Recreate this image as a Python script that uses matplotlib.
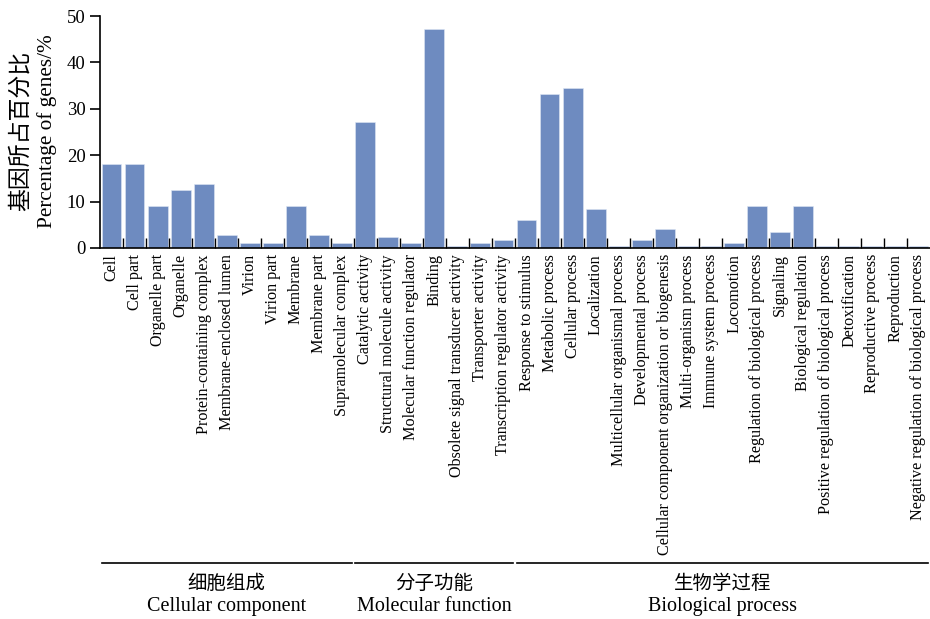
import matplotlib.pyplot as plt
import matplotlib.transforms as mtransforms
import numpy as np

plt.rcParams['font.family'] = ['Liberation Serif', 'Noto Sans CJK SC']

cc_terms = ['Cell', 'Cell part', 'Organelle part', 'Organelle', 'Protein-containing complex',
            'Membrane-enclosed lumen', 'Virion', 'Virion part', 'Membrane', 'Membrane part',
            'Supramolecular complex']
cc_values = [18.1, 18.1, 9.0, 12.6, 13.9, 2.8, 1.1, 1.1, 9.0, 2.8, 1.1]

mf_terms = ['Catalytic activity', 'Structural molecule activity', 'Molecular function regulator',
            'Binding', 'Obsolete signal transducer activity', 'Transporter activity',
            'Transcription regulator activity']
mf_values = [27.2, 2.3, 1.1, 47.3, 0.5, 1.1, 1.7]

bp_terms = ['Response to stimulus', 'Metabolic process', 'Cellular process', 'Localization',
            'Multicellular organismal process', 'Developmental process',
            'Cellular component organization or biogenesis', 'Multi-organism process',
            'Immune system process', 'Locomotion', 'Regulation of biological process',
            'Signaling', 'Biological regulation', 'Positive regulation of biological process',
            'Detoxification', 'Reproductive process', 'Reproduction',
            'Negative regulation of biological process']
bp_values = [6.0, 33.3, 34.4, 8.4, 0.5, 1.7, 4.1, 0.5, 0.5, 1.1, 9.0, 3.5, 9.0,
             0.5, 0.5, 0.5, 0.5, 0.5]

groups = [('细胞组成', 'Cellular component', len(cc_terms)),
          ('分子功能', 'Molecular function', len(mf_terms)),
          ('生物学过程', 'Biological process', len(bp_terms))]

terms = cc_terms + mf_terms + bp_terms
values = cc_values + mf_values + bp_values
x = np.arange(len(terms)) + 0.5

fig = plt.figure(figsize=(9.3, 6.19), dpi=100)
ax = fig.add_axes([0.1075, 0.5994, 0.8925, 0.3746])

ax.bar(x, values, width=0.86, color='#6e8bc0', edgecolor='#dfe7f4', linewidth=0.4)

ax.set_xlim(0, len(terms))
ax.set_ylim(0, 50)
ax.set_yticks([0, 10, 20, 30, 40, 50])
ax.tick_params(axis='y', direction='out', length=7, width=1.2, labelsize=13.5)
ax.set_xticks(np.arange(1, len(terms)))
ax.set_xticklabels([])
ax.tick_params(axis='x', direction='in', length=7, width=1.0)
for s in ['top', 'right']:
    ax.spines[s].set_visible(False)
for s in ['left', 'bottom']:
    ax.spines[s].set_linewidth(1.2)

# category names under each bar
for xi, t in zip(x, terms):
    ax.text(xi, -1.3, t, rotation=90, ha='center', va='top', fontsize=11.6)

fig.text(0.022, 0.788, '基因所占百分比', rotation=90, ha='center', va='center',
         fontsize=16.5, family=['Noto Sans CJK SC'])
fig.text(0.051, 0.788, 'Percentage of genes/%', rotation=90, ha='center', va='center',
         fontsize=15.3)

# group brackets along the bottom
trans = mtransforms.blended_transform_factory(ax.transData, fig.transFigure)
start = 0
for zh, en, n in groups:
    x0, x1 = start + 0.08, start + n - 0.08
    ax.plot([x0, x1], [0.0905, 0.0905], transform=trans, color='black', lw=1.2,
            clip_on=False)
    mid = start + n / 2
    fig.text(mid, 0.058, zh, transform=trans, ha='center', va='center',
             fontsize=14, family=['Noto Sans CJK SC'])
    fig.text(mid, 0.02, en, transform=trans, ha='center', va='center', fontsize=14.5)
    start += n

fig.savefig('out.png', dpi=100)
